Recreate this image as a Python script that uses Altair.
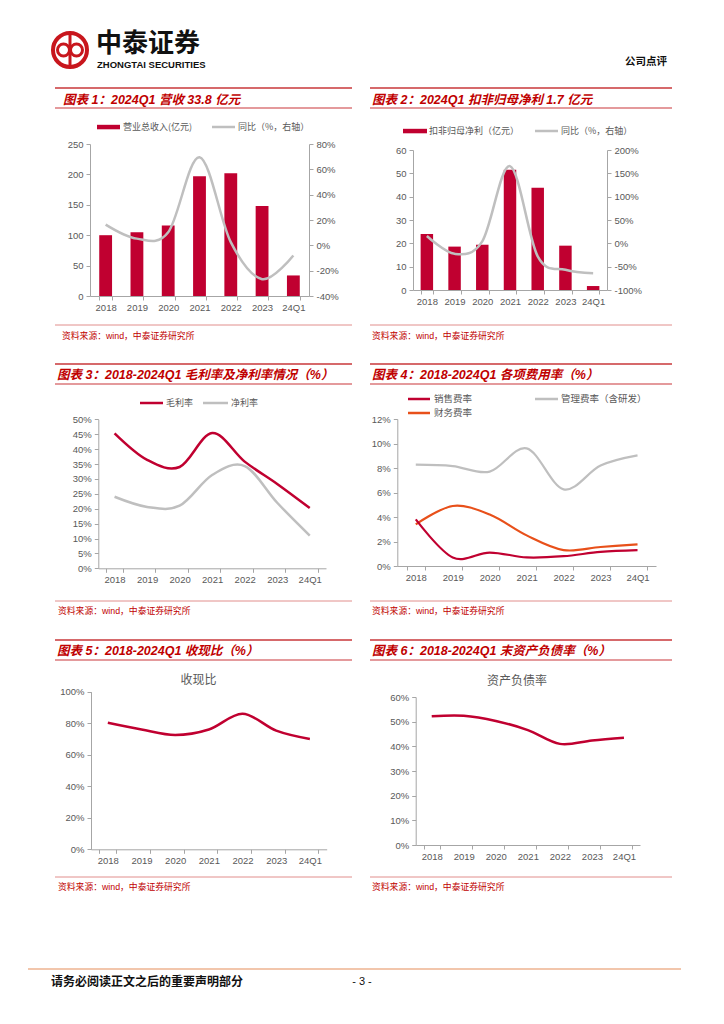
import altair as alt
import pandas as pd

# ---------------- data ----------------
cats = ["2018", "2019", "2020", "2021", "2022", "2023", "24Q1"]
revenue = [100, 105, 116, 197, 202, 148, 33.8]
revenue_yoy = [16.4, 5.3, 10.3, 69.6, 2.5, -26.7, -8.0]
profit = [24.0, 18.6, 19.4, 51.5, 43.8, 19.0, 1.7]
profit_yoy = [15.7, -22.5, 4.3, 165.5, -28.0, -56.6, -64.0]
gross_margin = [45.3, 36.4, 34.0, 45.4, 35.8, 28.3, 20.2]
net_margin = [24.0, 20.6, 21.0, 31.3, 34.3, 22.0, 11.0]
sell_rate = [3.8, 0.7, 1.1, 0.7, 0.8, 1.15, 1.3]
admin_rate = [8.27, 8.16, 7.7, 9.6, 6.26, 8.2, 9.03]
fin_rate = [3.4, 4.9, 4.2, 2.5, 1.3, 1.55, 1.77]
cash_ratio = [80.3, 76.0, 72.5, 76.0, 86.0, 75.3, 70.0]
debt_ratio = [52.2, 52.4, 50.3, 46.6, 41.0, 42.4, 43.5]

rev_ticks = [0, 50, 100, 150, 200, 250]
rev_yoy_ticks = [-40, -20, 0, 20, 40, 60, 80]
profit_ticks = [0, 10, 20, 30, 40, 50, 60]
profit_yoy_ticks = [-100, -50, 0, 50, 100, 150, 200]
margin_ticks = [0, 5, 10, 15, 20, 25, 30, 35, 40, 45, 50]
expense_ticks = [0, 2, 4, 6, 8, 10, 12]
cash_ticks = [0, 20, 40, 60, 80, 100]
debt_ticks = [0, 10, 20, 30, 40, 50, 60]

titles = [
    "图表 1：2024Q1 营收 33.8 亿元",
    "图表 2：2024Q1 扣非归母净利 1.7 亿元",
    "图表 3：2018-2024Q1 毛利率及净利率情况（%）",
    "图表 4：2018-2024Q1 各项费用率（%）",
    "图表 5：2018-2024Q1 收现比（%）",
    "图表 6：2018-2024Q1 末资产负债率（%）",
]
source = "资料来源：wind，中泰证券研究所"

# ---------------- styling ----------------
W, H = 708, 1008
M = 8
RED = "#C00030"
GRAY = "#BFBFBF"
ORANGE = "#E8501A"
TITLE_RED = "#C00000"
LINE_RED = "#C9373A"
SRC_LINE = "#D9726F"
AX = "#A6A6A6"
LAB = "#595959"
LATIN = "Liberation Sans"
CJK = "Noto Sans CJK SC"
MIX = "Liberation Sans, Noto Sans CJK SC"
LOGO = "#C8161D"

ONE = alt.Data(values=[{"a": 1}])


def X(px):
    return px - M


def Y(py):
    return py - M


def T(s, x, y, size=9, color=LAB, font=CJK, weight="normal", style="normal", align="left"):
    return alt.Chart(ONE).mark_text(
        text=s, fontSize=size, color=color, font=font, fontWeight=weight,
        fontStyle=style, align=align, baseline="middle"
    ).encode(x=alt.value(X(x)), y=alt.value(Y(y)))


def R(x1, x2, y, color, w):
    return alt.Chart(ONE).mark_rule(color=color, strokeWidth=w).encode(
        x=alt.value(X(x1)), x2=alt.value(X(x2)), y=alt.value(Y(y)))


def VR(x, y1, y2, color, w):
    return alt.Chart(ONE).mark_rule(color=color, strokeWidth=w).encode(
        x=alt.value(X(x)), y=alt.value(Y(y1)), y2=alt.value(Y(y2)))


def RECT(x1, x2, y1, y2, color):
    return alt.Chart(ONE).mark_rect(color=color).encode(
        x=alt.value(X(x1)), x2=alt.value(X(x2)), y=alt.value(Y(y1)), y2=alt.value(Y(y2)))


def RING(x, y, d, w):
    return alt.Chart(ONE).mark_point(
        shape="circle", size=d * d, filled=False, stroke=LOGO, strokeWidth=w, opacity=1
    ).encode(x=alt.value(X(x)), y=alt.value(Y(y)))


def x_axis(y_page):
    return alt.Axis(orient="bottom", offset=Y(y_page) - H, title=None, labelAngle=0,
                    tickBand="extent", domainColor=AX, tickColor=AX, tickSize=4,
                    labelPadding=2, labelFont=LATIN, labelFontSize=9.5, labelColor=LAB,
                    grid=False, labelOverlap=False)


def y_axis(x_page, ticks, orient="left", pct=False):
    off = -X(x_page) if orient == "left" else X(x_page) - W
    kw = dict(orient=orient, offset=off, values=ticks, title=None, domainColor=AX,
              tickColor=AX, tickSize=4, labelPadding=3, labelFont=LATIN,
              labelFontSize=9.5, labelColor=LAB, grid=False, labelOverlap=False)
    if pct:
        kw["labelExpr"] = "datum.value + '%'"
    return alt.Axis(**kw)


def xenc(x0, x1, pi, axis):
    return alt.X("cat:N", sort=None,
                 scale=alt.Scale(type="band", domain=cats, range=[X(x0), X(x1)],
                                 paddingInner=pi, paddingOuter=pi / 2),
                 axis=axis)


def yenc(dom, ybot, ytop, axis):
    return alt.Y("v:Q", scale=alt.Scale(domain=dom, range=[Y(ybot), Y(ytop)], nice=False, zero=False),
                 axis=axis)


def df(vals):
    return pd.DataFrame({"cat": cats, "v": vals})


def bar_layer(vals, x0, x1, pi, ybot, ytop, dom, ticks, color=RED):
    return alt.Chart(df(vals)).mark_bar(color=color).encode(
        x=xenc(x0, x1, pi, x_axis(ybot)),
        y=yenc(dom, ybot, ytop, y_axis(x0, ticks)),
    )


def line_layer(vals, x0, x1, ybot, ytop, dom, color, width=2.5, xaxis=False, yaxis=None):
    return alt.Chart(df(vals)).mark_line(color=color, strokeWidth=width, interpolate="cardinal").encode(
        x=xenc(x0, x1, 0.5, x_axis(ybot) if xaxis else None),
        y=yenc(dom, ybot, ytop, yaxis),
    )


layers = []

# ---------------- header ----------------
layers += [
    RING(70, 50, 34, 4),
    RING(63.5, 50, 12, 3),
    RING(76.5, 50, 12, 3),
    VR(70, 35, 65, LOGO, 3),
    T("中泰证券", 96, 44, size=26, color="#111111", font=CJK, weight="bold"),
    T("ZHONGTAI SECURITIES", 97, 65, size=9.5, color="#111111", font=LATIN, weight="bold"),
    T("公司点评", 646, 62, size=10.5, color="#111111", font=CJK, weight="bold", align="center"),
]

# ---------------- panel frames ----------------
L = (55, 352)
Rr = (370, 672)
row_top = [88, 364, 640]
row_title = [99.5, 375, 651]
row_bottom = [108, 384, 660]
row_src_line = [325, 601, 877]
row_src_text = [335.5, 611, 887]
title_x_left = [63, 57, 57]
src_x_left = [62, 58, 58]

for i in range(3):
    for side, (a, b) in enumerate([L, Rr]):
        layers.append(R(a, b, row_top[i], LINE_RED, 1.3))
        layers.append(R(a, b, row_bottom[i], LINE_RED, 1.1))
        layers.append(R(a, b, row_src_line[i], SRC_LINE, 0.8))
        tx = title_x_left[i] if side == 0 else 372
        sx = src_x_left[i] if side == 0 else 372
        layers.append(T(titles[i * 2 + side], tx, row_title[i], size=12.5, color=TITLE_RED,
                        font=MIX, weight="bold", style="italic"))
        layers.append(T(source, sx, row_src_text[i], size=8.8, color=TITLE_RED, font=MIX))

# ---------------- chart 1 ----------------
layers += [
    bar_layer(revenue, 90, 309, 0.59, 296, 144, [0, 250], rev_ticks),
    line_layer(revenue_yoy, 90, 309, 296, 144, [-40, 80], GRAY,
               yaxis=y_axis(309, rev_yoy_ticks, orient="right", pct=True)),
    RECT(97, 120, 124.8, 129.3, RED),
    T("营业总收入(亿元)", 123, 127),
    R(212, 235, 127, GRAY, 2.5),
    T("同比（%，右轴）", 238, 127),
]

# ---------------- chart 2 ----------------
layers += [
    bar_layer(profit, 413, 607, 0.55, 290, 150, [0, 60], profit_ticks),
    line_layer(profit_yoy, 413, 607, 290, 150, [-100, 200], GRAY,
               yaxis=y_axis(607, profit_yoy_ticks, orient="right", pct=True)),
    RECT(403, 427, 128.8, 133.3, RED),
    T("扣非归母净利（亿元）", 429, 131),
    R(535, 558, 131, GRAY, 2.5),
    T("同比（%，右轴）", 561, 131),
]

# ---------------- chart 3 ----------------
layers += [
    line_layer(net_margin, 98.3, 326, 568.3, 419.3, [0, 50], GRAY, xaxis=True,
               yaxis=y_axis(98.3, margin_ticks, pct=True)),
    line_layer(gross_margin, 98.3, 326, 568.3, 419.3, [0, 50], RED),
    R(140, 163, 403, RED, 2.5),
    T("毛利率", 166, 403),
    R(203, 228, 403, GRAY, 2.5),
    T("净利率", 231, 403),
]

# ---------------- chart 4 ----------------
layers += [
    line_layer(admin_rate, 397.3, 656, 566, 419, [0, 12], GRAY, width=2.2, xaxis=True,
               yaxis=y_axis(397.3, expense_ticks, pct=True)),
    line_layer(fin_rate, 397.3, 656, 566, 419, [0, 12], ORANGE, width=2.2),
    line_layer(sell_rate, 397.3, 656, 566, 419, [0, 12], RED, width=2.2),
    R(408, 430, 399, RED, 2.5),
    T("销售费率", 434, 399, size=9.5),
    R(535, 558, 399, GRAY, 2.5),
    T("管理费率（含研发）", 561, 399, size=9.5),
    R(408, 430, 413, ORANGE, 2.5),
    T("财务费率", 434, 413, size=9.5),
]

# ---------------- chart 5 ----------------
layers += [
    line_layer(cash_ratio, 91, 326.7, 849.3, 691.7, [0, 100], RED, xaxis=True,
               yaxis=y_axis(91, cash_ticks, pct=True)),
    T("收现比", 198.5, 680, size=12, align="center"),
]

# ---------------- chart 6 ----------------
layers += [
    line_layer(debt_ratio, 415.7, 640, 845, 697, [0, 60], RED, xaxis=True,
               yaxis=y_axis(415.7, debt_ticks, pct=True)),
    T("资产负债率", 517, 681, size=12, align="center"),
]

# ---------------- footer ----------------
layers += [
    R(28, 681, 969, "#F2C6AC", 2),
    T("请务必阅读正文之后的重要声明部分", 51, 982, size=12, color="#111111", font=CJK, weight="bold"),
    T("- 3 -", 362, 982, size=11, color="#111111", font=LATIN, align="center"),
]

chart = alt.layer(*layers).resolve_scale(
    x="independent", y="independent"
).properties(
    width=W, height=H, padding=0, autosize=alt.AutoSizeParams(type="none")
).configure_view(stroke=None)

chart.save("out.html", embed_options={"renderer": "svg", "actions": False})
